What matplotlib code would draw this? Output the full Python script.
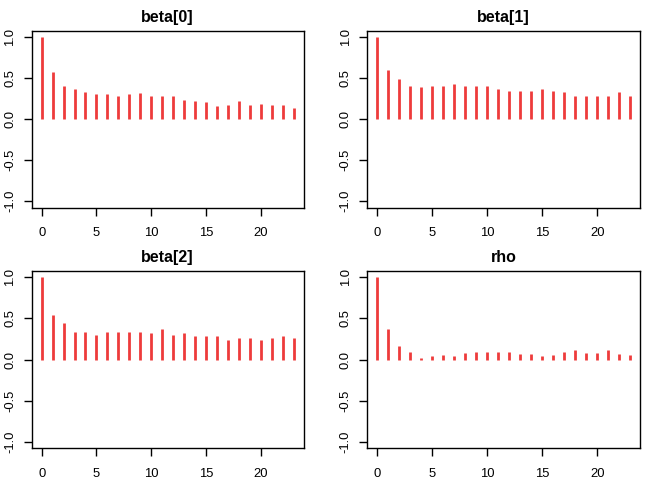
import matplotlib
matplotlib.use('Agg')
from matplotlib import pyplot as plt
import numpy as np

plt.rcParams['font.family'] = ['Liberation Sans', 'DejaVu Sans']

lags = np.arange(24)

acf_beta0 = [1.0, 0.58, 0.40, 0.37, 0.33, 0.31, 0.31, 0.29, 0.31, 0.32, 0.28, 0.29,
             0.29, 0.24, 0.22, 0.21, 0.16, 0.18, 0.22, 0.18, 0.19, 0.18, 0.18, 0.14]
acf_beta1 = [1.0, 0.60, 0.49, 0.40, 0.39, 0.40, 0.40, 0.43, 0.40, 0.40, 0.40, 0.37,
             0.35, 0.35, 0.34, 0.37, 0.34, 0.33, 0.29, 0.29, 0.29, 0.29, 0.33, 0.29]
acf_beta2 = [1.0, 0.54, 0.45, 0.34, 0.34, 0.30, 0.34, 0.33, 0.33, 0.33, 0.32, 0.37,
             0.30, 0.32, 0.29, 0.29, 0.28, 0.24, 0.26, 0.26, 0.24, 0.26, 0.29, 0.26]
acf_rho = [1.0, 0.37, 0.16, 0.09, 0.02, 0.045, 0.058, 0.045, 0.082, 0.095, 0.095, 0.095,
           0.095, 0.07, 0.07, 0.045, 0.058, 0.095, 0.12, 0.082, 0.082, 0.12, 0.07, 0.058]

titles = ['beta[0]', 'beta[1]', 'beta[2]', 'rho']
series = [acf_beta0, acf_beta1, acf_beta2, acf_rho]

x_ticks = [0, 5, 10, 15, 20]
y_ticks = [-1.0, -0.5, 0.0, 0.5, 1.0]
y_labels = ['-1.0', '-0.5', '0.0', '0.5', '1.0']

fig = plt.figure(figsize=(6.72, 4.8), dpi=100)

# [left, bottom, width, height] of each panel
boxes = [
    [0.047, 0.567, 0.405, 0.369],
    [0.546, 0.567, 0.407, 0.369],
    [0.047, 0.066, 0.405, 0.370],
    [0.546, 0.066, 0.407, 0.370],
]

for box, title, values in zip(boxes, titles, series):
    ax = fig.add_axes(box)
    ax.vlines(lags, 0, values, colors='#EE3B3B', linewidth=2)
    ax.set_xlim(-0.92, 23.92)
    ax.set_ylim(-1.08, 1.08)
    ax.set_xticks(x_ticks)
    ax.set_yticks(y_ticks)
    ax.set_yticklabels(y_labels, rotation=90, va='center')
    ax.tick_params(direction='out', length=6, width=1, labelsize=9.4)
    ax.tick_params(axis='x', pad=8)
    ax.tick_params(axis='y', pad=5)
    for sp in ax.spines.values():
        sp.set_linewidth(1)
    ax.set_title(title, fontsize=11.5, fontweight='bold', pad=6)

fig.savefig('out.png', dpi=100)
